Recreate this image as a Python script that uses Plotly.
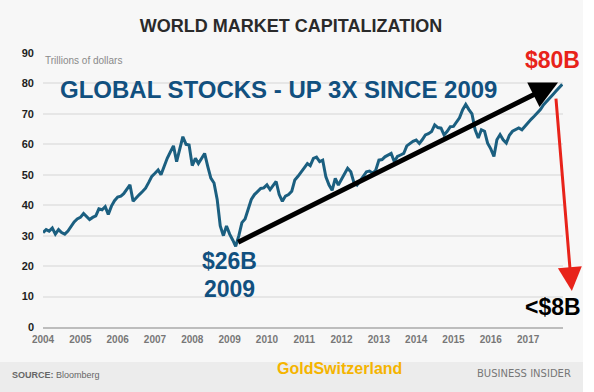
import plotly.graph_objects as go

months = [f"{y}-{m:02d}-01" for y in range(2004, 2018) for m in range(1, 13)]

market_cap = [
    # 2004
    31, 32, 31.5, 32.5, 30.5, 32, 31, 30.5, 31.5, 33, 34.5, 35.5,
    # 2005
    36, 37.3, 36.5, 35.3, 36, 36.5, 38.8, 38.5, 39.5, 37, 39.7, 41.5,
    # 2006
    42.7, 43, 43.8, 45.5, 46.7, 41.3, 42.5, 43.5, 44.5, 45.6, 47.5, 49.5,
    # 2007
    50.5, 51.6, 50, 53, 55.4, 57.5, 59.5, 54.3, 58.5, 62.5, 60, 59.8,
    # 2008
    53, 55.4, 53.7, 55.5, 57, 52.7, 48.9, 47.3, 41.9, 33.2, 30, 33.2,
    # 2009
    30.5, 28.5, 26.5, 30, 34.3, 35.5, 38.6, 41.9, 43.5, 44.6, 45.5, 45.7,
    # 2010
    46.7, 45.1, 46.5, 47.8, 43.5, 41.3, 43, 43.5, 44.6, 48.3, 49.5, 51,
    # 2011
    52.5, 53.7, 53, 55.4, 55.8, 54.3, 54.8, 49.3, 46.6, 44.9, 48.8, 46.6,
    # 2012
    48.5, 50.4, 52.1, 51, 47.5, 46.6, 48.2, 49.5, 51, 51.2, 50.5, 51.5,
    # 2013
    54.8, 55, 55.9, 56.5, 57, 54.3, 56, 56.5, 57, 59.5, 60.3, 61,
    # 2014
    61.4, 60.3, 61.5, 63.1, 63.5, 64.2, 66.4, 65.5, 65.3, 63.1, 64.3, 65.8,
    # 2015
    65.9, 67.5, 68.7, 71.4, 73.1, 71.4, 70, 64.8, 62.1, 64.8, 64.3, 60.4,
    # 2016
    58.5, 56, 61.5, 63.2, 61.5, 60.4, 63, 64.3, 65, 65.4, 64.8, 66,
    # 2017
    67, 68.3, 69.2, 70.3, 71.4, 73, 74.2, 75.3, 76.4, 77.5, 78.6, 79.7,
]

year_ticks = [f"{y}-01-01" for y in range(2004, 2018)]
year_labels = [str(y) for y in range(2004, 2018)]
y_ticks = [0, 10, 20, 30, 40, 50, 60, 70, 80, 90]

BLUE = "#11507f"
LINE = "#1b5f80"
FONT = "Liberation Sans, Arial, sans-serif"

fig = go.Figure()
fig.add_trace(go.Scatter(
    x=months, y=market_cap, mode="lines",
    line=dict(color=LINE, width=3), hoverinfo="skip", showlegend=False,
))

fig.update_layout(
    width=594, height=392,
    margin=dict(l=43, r=31, t=53, b=65),
    paper_bgcolor="#f7f7f7", plot_bgcolor="#f7f7f7",
    font=dict(family=FONT),
    title=dict(text="<b>WORLD MARKET CAPITALIZATION</b>", x=291 / 594, xanchor="center",
               y=1 - 26 / 392, yanchor="middle",
               font=dict(size=18, color="#2a2a2a", family=FONT)),
    xaxis=dict(
        range=["2004-01-01", "2017-12-08"],
        tickvals=year_ticks, ticktext=year_labels,
        showgrid=False, zeroline=False,
        showline=True, linecolor="#bdbdbd", linewidth=2,
        tickfont=dict(size=10, color="#777777", family=FONT, weight="bold"),
        ticks="", ticklabelstandoff=2,
    ),
    yaxis=dict(
        range=[0, 90], tickvals=y_ticks,
        showgrid=True, gridcolor="#e6e6e6", gridwidth=2,
        zeroline=False, showline=False, ticks="",
        tickfont=dict(size=11, color="#1e1e1e", family=FONT, weight="bold"),
        ticklabelstandoff=8,
    ),
)

# footer band and right white strip
fig.add_shape(type="rect", xref="paper", yref="paper",
              x0=-0.0827, x1=1.0385, y0=-0.237, y1=-0.1277,
              fillcolor="#ececec", line=dict(width=0), layer="below")
fig.add_shape(type="rect", xref="paper", yref="paper",
              x0=1.0385, x1=1.07, y0=-0.24, y1=1.2,
              fillcolor="#ffffff", line=dict(width=0), layer="below")

ann = []
ann.append(dict(text="Trillions of dollars", xref="paper", yref="paper", x=0, y=0.974,
                xanchor="left", yanchor="middle", showarrow=False,
                font=dict(size=10, color="#8a8a8a")))
ann.append(dict(text="<b>GLOBAL STOCKS - UP 3X SINCE 2009</b>", xref="paper", yref="paper",
                x=0.0288, y=0.8686, xanchor="left", yanchor="middle", showarrow=False,
                font=dict(size=24, color=BLUE)))
ann.append(dict(text="<b>$80B</b>", xref="paper", yref="paper", x=0.98, y=0.974,
                xanchor="center", yanchor="middle", showarrow=False,
                font=dict(size=23, color="#e8231a")))
ann.append(dict(text="<b>$26B</b>", xref="paper", yref="paper", x=0.3587, y=0.2409,
                xanchor="center", yanchor="middle", showarrow=False,
                font=dict(size=23, color=BLUE)))
ann.append(dict(text="<b>2009</b>", xref="paper", yref="paper", x=0.3577, y=0.1387,
                xanchor="center", yanchor="middle", showarrow=False,
                font=dict(size=23, color=BLUE)))
ann.append(dict(text="<b><$8B</b>", xref="paper", yref="paper", x=0.98, y=0.073,
                xanchor="center", yanchor="middle", showarrow=False,
                font=dict(size=23, color="#000000")))
ann.append(dict(text="<b>GoldSwitzerland</b>", xref="paper", yref="paper", x=0.57, y=-0.153,
                xanchor="center", yanchor="middle", showarrow=False,
                font=dict(size=16, color="#f5b400")))
ann.append(dict(text="<b>SOURCE:</b> Bloomberg", xref="paper", yref="paper", x=-0.0635, y=-0.175,
                xanchor="left", yanchor="middle", showarrow=False,
                font=dict(size=9, color="#666666")))
ann.append(dict(text="BUSINESS INSIDER", xref="paper", yref="paper", x=1.019, y=-0.1715,
                xanchor="right", yanchor="middle", showarrow=False,
                font=dict(size=10, color="#777777", family="DejaVu Sans")))
# black arrow from 2009 trough to end
ann.append(dict(text="", x="2017-10-20", y=80.3, xref="x", yref="y",
                ax="2009-03-10", ay=27.6, axref="x", ayref="y",
                showarrow=True, arrowhead=2, arrowsize=1.1, arrowwidth=5,
                arrowcolor="#000000", standoff=0))
# red arrow down to <$8B
ann.append(dict(text="", x=1.017, y=0.131, xref="paper", yref="paper",
                ax=-16, ay=-194, axref="pixel", ayref="pixel",
                showarrow=True, arrowhead=2, arrowsize=1.6, arrowwidth=3,
                arrowcolor="#e8231a", standoff=0))
fig.update_layout(annotations=ann)

fig.write_html("out.html", config={"displayModeBar": False},
               post_script="document.body.style.margin='0px';document.body.style.padding='0px';")
